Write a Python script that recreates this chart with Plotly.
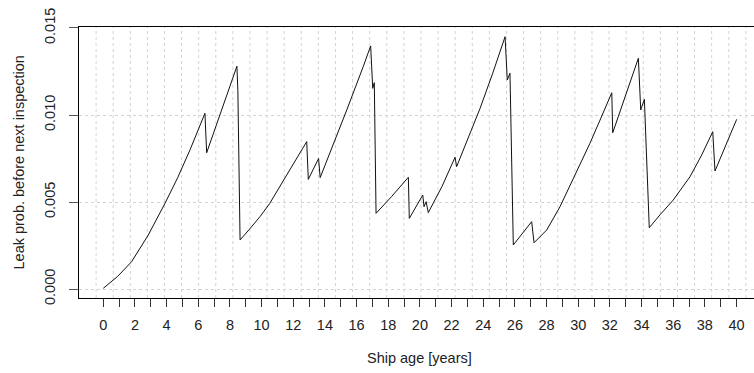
import plotly.graph_objects as go

# Ship age (years) and leak probability before the next inspection
age = [0.0, 0.9, 1.79, 2.84, 3.9, 4.7, 5.48, 6.42, 6.53, 7.5, 8.44, 8.5, 8.64,
       9.2, 9.9, 10.5, 11.16, 12.0, 12.85, 12.95, 13.6, 13.7, 14.32, 15.38,
       16.42, 16.89, 17.02, 17.12, 17.23, 18.2, 19.27, 19.33, 20.18, 20.26,
       20.39, 20.53, 21.4, 22.22, 22.32, 23.16, 23.8, 24.6, 25.38, 25.52,
       25.69, 25.9, 27.06, 27.21, 27.6, 28.01, 28.85, 29.9, 30.74, 31.38,
       32.12, 32.18, 33.0, 33.8, 33.95, 34.18, 34.49, 35.2, 36.0, 37.06, 37.8,
       38.5, 38.64, 40.01]
leak_prob = [0.00004, 0.00072, 0.00157, 0.0031, 0.00493, 0.0064, 0.0080, 0.0101,
             0.00783, 0.0103, 0.0128, 0.0114, 0.00282,
             0.0034, 0.00416, 0.0049, 0.00588, 0.00713, 0.00847, 0.0063, 0.0075,
             0.0064, 0.0078, 0.01029,
             0.01278, 0.01397, 0.01153, 0.01186, 0.00435, 0.0053, 0.00642,
             0.00406, 0.0054, 0.00473,
             0.00502, 0.00439, 0.0059, 0.00757, 0.00703, 0.00895, 0.01038,
             0.0124, 0.0145, 0.01201,
             0.0124, 0.00253, 0.00387, 0.00266, 0.0030, 0.00339, 0.00473,
             0.00674, 0.00837, 0.00971,
             0.01128, 0.00898, 0.0111, 0.01326, 0.01029, 0.0109, 0.00352,
             0.0043, 0.00511, 0.00645, 0.0077,
             0.00904, 0.00678, 0.00975]

x_ticks = list(range(0, 41))
x_tick_text = [str(v) if v % 2 == 0 else "" for v in x_ticks]
y_ticks = [0.0, 0.005, 0.010, 0.015]
y_tick_text = ["0.000", "0.005", "0.010", "0.015"]

FONT = "Liberation Sans, Arial, sans-serif"
TXT = "#222222"

x_lo, x_hi = -1.535, 41.105
box_hi = 41.67          # right edge of the full plotting box
y_lo, y_hi = -0.000517, 0.015057

fig = go.Figure()
fig.add_trace(go.Scatter(x=age, y=leak_prob, mode="lines",
                         line=dict(color="#111111", width=1),
                         hoverinfo="skip", showlegend=False))

# 40 equal cells of dotted vertical grid across the box
shapes = []
n_cells = 40
step = (box_hi - x_lo) / n_cells
for k in range(1, n_cells):
    gx = x_lo + k * step
    if gx < x_hi:
        shapes.append(dict(type="line", xref="x", yref="paper", x0=gx, x1=gx,
                           y0=0, y1=1, layer="below",
                           line=dict(color="#d3d3d3", width=1, dash="dot")))

fig.update_layout(
    width=754, height=373,
    margin=dict(l=79, r=0, t=27, b=75),
    paper_bgcolor="white", plot_bgcolor="white",
    font=dict(family=FONT, size=14.5, color=TXT),
    shapes=shapes,
    xaxis=dict(range=[x_lo, x_hi], tickmode="array", tickvals=x_ticks,
               ticktext=x_tick_text, ticks="outside", ticklen=8,
               tickcolor="#333333", tickwidth=1, ticklabelstandoff=6,
               showline=True, linecolor="black", linewidth=1, mirror=True,
               showgrid=False, zeroline=False,
               tickfont=dict(family=FONT, size=14.5, color=TXT)),
    yaxis=dict(range=[y_lo, y_hi], tickmode="array", tickvals=y_ticks,
               ticktext=y_tick_text, tickangle=-90, ticks="outside",
               ticklen=9, tickcolor="#555555", tickwidth=1, ticklabelstandoff=8,
               showline=True, linecolor="black", linewidth=1,
               showgrid=True, gridcolor="#d3d3d3", griddash="dot", gridwidth=1,
               zeroline=False,
               tickfont=dict(family=FONT, size=14.5, color=TXT)),
    annotations=[
        dict(text="Ship age [years]", xref="paper", yref="paper",
             x=(419.5 - 79) / 675, y=(298 - 358) / 271,
             xanchor="center", yanchor="middle", showarrow=False,
             font=dict(family=FONT, size=14.5, color=TXT)),
        dict(text="Leak prob. before next inspection", xref="paper", yref="paper",
             x=(18 - 79) / 675, y=0.5, textangle=-90,
             xanchor="center", yanchor="middle", showarrow=False,
             font=dict(family=FONT, size=14.5, color=TXT)),
    ],
)

fig.write_html("out.html")
